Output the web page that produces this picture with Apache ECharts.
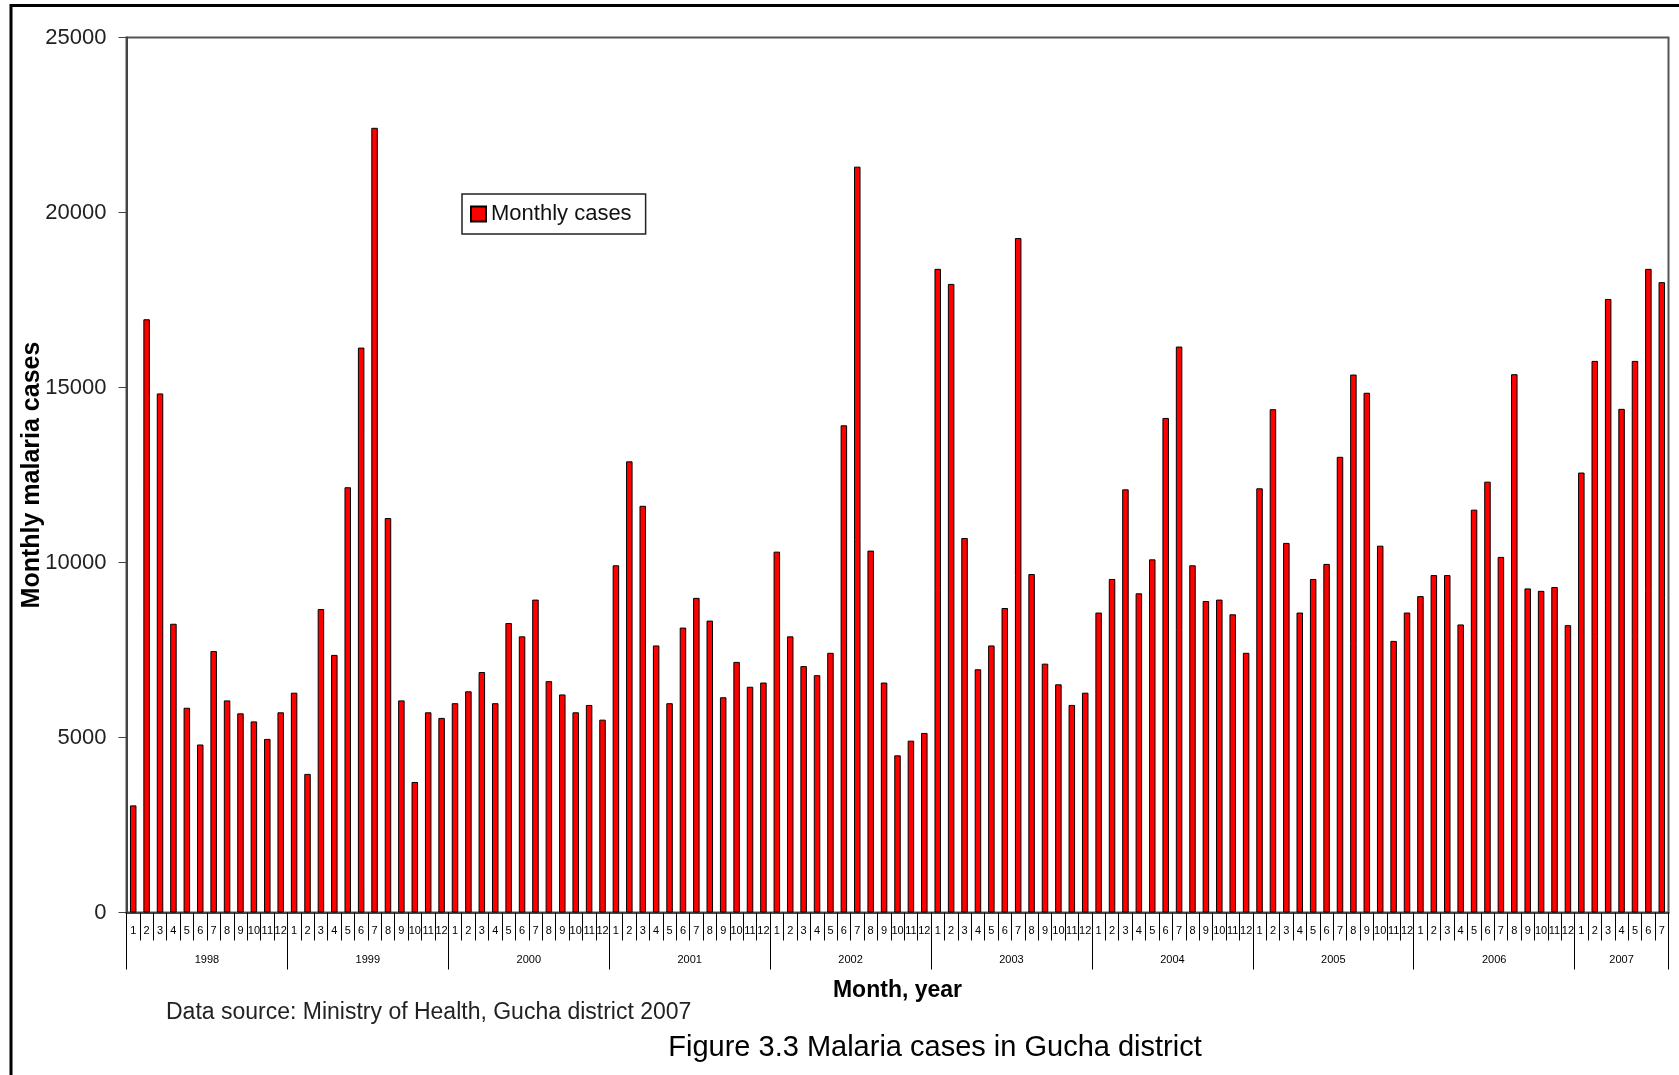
<!DOCTYPE html>
<html>
<head>
<meta charset="utf-8">
<title>Malaria cases in Gucha district</title>
<script src="https://cdn.jsdelivr.net/npm/echarts@6/dist/echarts.min.js"></script>
<style>
  html, body { margin: 0; padding: 0; background: #ffffff; }
  #chart { width: 1679px; height: 1075px; }
</style>
</head>
<body>
<div id="chart"></div>
<script>
// Monthly malaria cases, Gucha district (Ministry of Health, 2007)
const years = ['1998', '1999', '2000', '2001', '2002', '2003', '2004', '2005', '2006', '2007'];

const cases1998 = [3060, 16950, 14830, 8250, 5850, 4800, 7470, 6060, 5690, 5460, 4960, 5720];
const cases1999 = [6280, 3960, 8670, 7360, 12150, 16140, 22420, 11270, 6060, 3730, 5720, 5560];
const cases2000 = [5980, 6320, 6870, 5980, 8270, 7890, 8940, 6610, 6230, 5720, 5930, 5510];
const cases2001 = [9920, 12890, 11620, 7630, 5980, 8140, 8990, 8340, 6150, 7160, 6450, 6570];
const cases2002 = [10310, 7890, 7040, 6780, 7420, 13920, 21310, 10340, 6570, 4490, 4910, 5130];
const cases2003 = [18390, 17960, 10700, 6950, 7630, 8700, 19270, 9670, 7110, 6520, 5930, 6280];
const cases2004 = [8570, 9530, 12090, 9120, 10090, 14130, 16170, 9920, 8900, 8940, 8520, 7420];
const cases2005 = [12120, 14380, 10560, 8570, 9530, 9960, 13020, 15370, 14850, 10480, 7760, 8570];
const cases2006 = [9040, 9640, 9640, 8230, 11510, 12310, 10160, 15380, 9260, 9190, 9300, 8210];
const cases2007 = [12570, 15760, 17530, 14390, 15760, 18390, 18010];

const yTickValues = [0, 5000, 10000, 15000, 20000, 25000];

const seriesName = 'Monthly cases';
const xAxisTitle = 'Month, year';
const yAxisTitle = 'Monthly malaria cases';
const sourceNote = 'Data source: Ministry of Health, Gucha district 2007';
const figureCaption = 'Figure 3.3 Malaria cases in Gucha district';

// Flatten the yearly lists into one month-by-month sequence
const casesByYear = [cases1998, cases1999, cases2000, cases2001, cases2002,
                     cases2003, cases2004, cases2005, cases2006, cases2007];
const monthKeys = [];
const monthlyCases = [];
const yearStarts = [];
const yearMids = [];
let offset = 0;
casesByYear.forEach((list, yi) => {
  yearStarts.push(offset);
  yearMids.push(offset + list.length / 2);
  list.forEach((v, mi) => {
    monthKeys.push(years[yi] + '-' + (mi + 1));
    monthlyCases.push(v);
  });
  offset += list.length;
});
yearStarts.push(offset);
const monthCount = offset;

const FONT = '"Liberation Sans", Arial, Helvetica, sans-serif';

const chart = echarts.init(document.getElementById('chart'), null, { renderer: 'canvas' });

chart.setOption({
  animation: false,
  backgroundColor: '#ffffff',
  textStyle: { fontFamily: FONT },
  grid: {
    left: 126.5,
    top: 37.5,
    width: 1542,
    height: 875,
    show: true,
    borderColor: '#555555',
    borderWidth: 2,
    backgroundColor: 'transparent'
  },
  legend: {
    left: 462,
    top: 194,
    orient: 'horizontal',
    borderColor: '#222222',
    borderWidth: 1.5,
    padding: [9, 14, 9, 8],
    itemWidth: 15,
    itemHeight: 15,
    textStyle: { fontFamily: FONT, fontSize: 22, color: '#111111' },
    data: [{ name: seriesName, icon: 'rect' }]
  },
  xAxis: [
    {
      // month numbers under every bar
      type: 'category',
      data: monthKeys,
      boundaryGap: true,
      position: 'bottom',
      axisLine: { show: true, lineStyle: { color: '#444444', width: 2 } },
      axisTick: { show: true, interval: 0, length: 28, lineStyle: { color: '#000000', width: 1 } },
      axisLabel: {
        interval: 0,
        margin: 13,
        fontFamily: FONT,
        fontSize: 11,
        color: '#000000',
        formatter: (v) => v.split('-')[1]
      },
      splitLine: { show: false },
      name: xAxisTitle,
      nameLocation: 'middle',
      nameGap: 67,
      nameTextStyle: { fontFamily: FONT, fontSize: 23, fontWeight: 'bold', color: '#000000' }
    },
    {
      // year groups below the month row
      type: 'value',
      min: 0,
      max: monthCount,
      position: 'bottom',
      axisLine: { show: false },
      splitLine: { show: false },
      axisTick: {
        show: true,
        length: 57,
        customValues: yearStarts,
        lineStyle: { color: '#000000', width: 1 }
      },
      axisLabel: {
        show: true,
        margin: 42,
        fontFamily: FONT,
        fontSize: 11,
        color: '#000000',
        customValues: yearMids,
        formatter: (v) => {
          const i = yearMids.findIndex((m) => Math.abs(m - v) < 0.01);
          return i >= 0 ? years[i] : '';
        }
      }
    }
  ],
  yAxis: {
    type: 'value',
    min: 0,
    max: 25000,
    interval: 5000,
    axisLine: { show: true, lineStyle: { color: '#444444', width: 2 } },
    axisTick: { show: true, inside: false, length: 8, lineStyle: { color: '#444444', width: 1 } },
    axisLabel: {
      margin: 20,
      fontFamily: FONT,
      fontSize: 22,
      color: '#222222',
      customValues: yTickValues,
      formatter: (v) => String(v)
    },
    splitLine: { show: false },
    name: yAxisTitle,
    nameLocation: 'middle',
    nameRotate: 90,
    nameGap: 82,
    nameMoveOverlap: false,
    nameTextStyle: { fontFamily: FONT, fontSize: 25, fontWeight: 'bold', color: '#000000' }
  },
  series: [
    {
      name: seriesName,
      type: 'bar',
      xAxisIndex: 0,
      yAxisIndex: 0,
      data: monthlyCases,
      barWidth: 6.5,
      itemStyle: { color: '#ff0000', borderColor: '#000000', borderWidth: 1 }
    }
  ],
  graphic: [
    {
      // picture frame along the top and left edges
      type: 'polyline',
      shape: { points: [[11, 1075], [11, 5.5], [1679, 5.5]] },
      style: { stroke: '#000000', lineWidth: 3, fill: null },
      silent: true
    },
    {
      type: 'text',
      x: 166,
      y: 1013,
      style: {
        text: sourceNote, fontFamily: FONT, fontSize: 23, fill: '#222222',
        align: 'left', verticalAlign: 'middle'
      },
      silent: true
    },
    {
      type: 'text',
      x: 935,
      y: 1048,
      style: {
        text: figureCaption, fontFamily: FONT, fontSize: 29, fill: '#000000',
        align: 'center', verticalAlign: 'middle'
      },
      silent: true
    }
  ]
});
</script>
</body>
</html>
